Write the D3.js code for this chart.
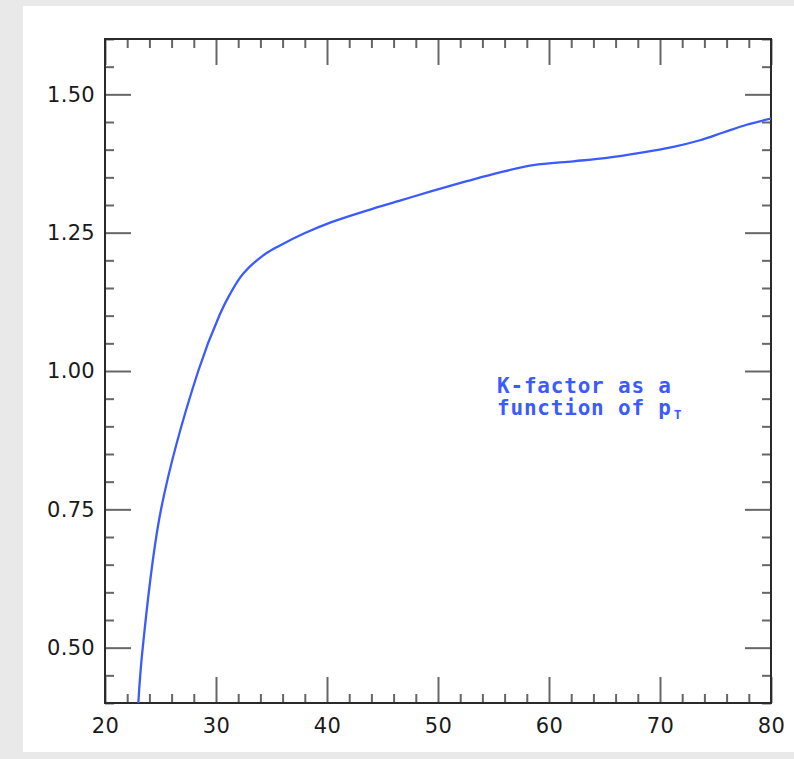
<!DOCTYPE html>
<html>
<head>
<meta charset="utf-8">
<script src="https://cdn.jsdelivr.net/npm/d3@7"></script>
<style>
  html, body { margin: 0; padding: 0; background: #e9e9ea; }
  svg { display: block; }
</style>
</head>
<body>
<svg id="chart" width="794" height="759"></svg>
<script>
// K-factor versus transverse momentum
const ptValues = [23.0, 23.4, 25.05, 28.4, 30.36, 31.26, 32.46, 34.26, 35.77,
                  37.87, 40.4, 43.58, 46.58, 49.58, 52.59, 55.59, 58.59, 62.19, 65.2, 68.2, 71.2,
                  73.6, 75.7, 77.8, 80.0];
const kValues  = [0.40, 0.50, 0.75, 1.00, 1.103, 1.139, 1.176, 1.209, 1.227,
                  1.248, 1.269, 1.290, 1.308, 1.326, 1.343, 1.359, 1.372, 1.379, 1.385, 1.394, 1.405,
                  1.417, 1.431, 1.445, 1.456];

const xMajorTicks = [20, 30, 40, 50, 60, 70, 80];
const xMinorTicks = d3.range(22, 80, 2).filter(v => v % 10 !== 0);
const yMajorTicks = [0.50, 0.75, 1.00, 1.25, 1.50];
const yMinorTicks = d3.range(0.40, 1.6001, 0.05).map(v => +v.toFixed(2))
                      .filter(v => Math.abs(v / 0.25 - Math.round(v / 0.25)) > 1e-6);

const svg = d3.select("#chart");

// card background
svg.append("rect").attr("x", 23).attr("y", 6).attr("width", 771).attr("height", 746)
  .attr("fill", "#ffffff");

const plot = { left: 105, right: 771, top: 39, bottom: 703 };
const x = d3.scaleLinear().domain([20, 80]).range([plot.left, plot.right]);
const y = d3.scaleLinear().domain([0.4, 1.6]).range([plot.bottom, plot.top]);

const majorLen = 26, minorLen = 9;
const tickColor = "#666666";

function styleAxis(g) {
  g.select(".domain").remove();
  g.selectAll(".tick line").attr("stroke", tickColor).attr("stroke-width", 2);
  g.selectAll(".tick text")
    .attr("fill", "#1a1a1a")
    .style("font-family", "'DejaVu Sans', sans-serif")
    .style("font-size", "21px")
    .style("letter-spacing", "0.3px");
}

// bottom axis: major with labels, minor without
svg.append("g").attr("transform", `translate(0,${plot.bottom})`)
  .call(d3.axisBottom(x).tickValues(xMajorTicks).tickSize(-majorLen).tickPadding(15).tickFormat(d3.format("d")))
  .call(styleAxis);
svg.append("g").attr("transform", `translate(0,${plot.bottom})`)
  .call(d3.axisBottom(x).tickValues(xMinorTicks).tickSize(-minorLen).tickFormat(""))
  .call(styleAxis);
// top axis
svg.append("g").attr("transform", `translate(0,${plot.top})`)
  .call(d3.axisTop(x).tickValues(xMajorTicks).tickSize(-majorLen).tickFormat(""))
  .call(styleAxis);
svg.append("g").attr("transform", `translate(0,${plot.top})`)
  .call(d3.axisTop(x).tickValues(xMinorTicks).tickSize(-minorLen).tickFormat(""))
  .call(styleAxis);
// left axis
svg.append("g").attr("transform", `translate(${plot.left},0)`)
  .call(d3.axisLeft(y).tickValues(yMajorTicks).tickSize(-majorLen).tickPadding(10).tickFormat(d3.format(".2f")))
  .call(styleAxis);
svg.append("g").attr("transform", `translate(${plot.left},0)`)
  .call(d3.axisLeft(y).tickValues(yMinorTicks).tickSize(-minorLen).tickFormat(""))
  .call(styleAxis);
// right axis
svg.append("g").attr("transform", `translate(${plot.right},0)`)
  .call(d3.axisRight(y).tickValues(yMajorTicks).tickSize(-majorLen).tickFormat(""))
  .call(styleAxis);
svg.append("g").attr("transform", `translate(${plot.right},0)`)
  .call(d3.axisRight(y).tickValues(yMinorTicks).tickSize(-minorLen).tickFormat(""))
  .call(styleAxis);

// frame
svg.append("rect")
  .attr("x", plot.left).attr("y", plot.top)
  .attr("width", plot.right - plot.left).attr("height", plot.bottom - plot.top)
  .attr("fill", "none").attr("stroke", "#2a2a2a").attr("stroke-width", 2);

// curve
svg.append("clipPath").attr("id", "plotClip")
  .append("rect").attr("x", plot.left).attr("y", plot.top)
  .attr("width", plot.right - plot.left).attr("height", plot.bottom - plot.top);

const points = ptValues.map((p, i) => [p, kValues[i]]);
const line = d3.line().x(d => x(d[0])).y(d => y(d[1])).curve(d3.curveCatmullRom.alpha(0.5));
svg.append("path")
  .datum(points)
  .attr("clip-path", "url(#plotClip)")
  .attr("d", line)
  .attr("fill", "none")
  .attr("stroke", "#3b5bff")
  .attr("stroke-width", 2.3);

// annotation
const blue = "#3b5bff";
const note = svg.append("text")
  .attr("fill", blue)
  .style("font-family", "'DejaVu Sans Mono', monospace")
  .style("font-weight", "bold")
  .style("font-size", "21px")
  .style("letter-spacing", "0.8px");
note.append("tspan").attr("x", 497).attr("y", 393).text("K-factor as a");
note.append("tspan").attr("x", 497).attr("y", 415).text("function of p");
note.append("tspan").attr("dx", 2).attr("dy", 4)
  .style("font-size", "13px").style("letter-spacing", "0px").text("T");
</script>
</body>
</html>
